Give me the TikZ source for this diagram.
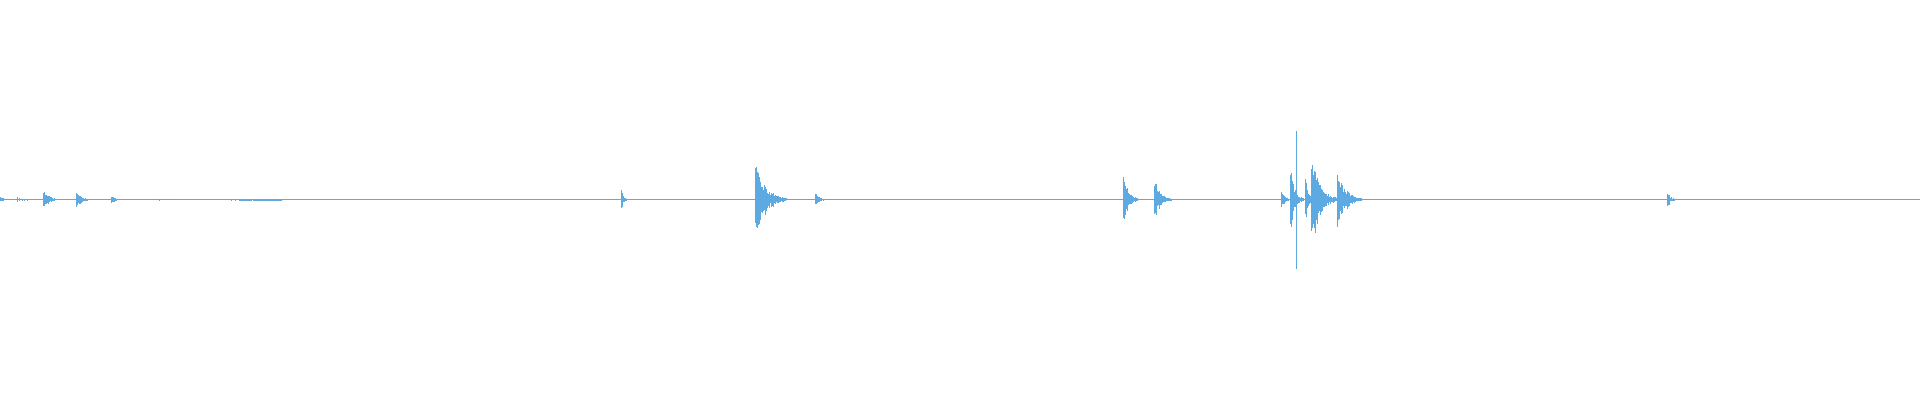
\documentclass[tikz,border=0pt]{standalone}
\definecolor{wave}{RGB}{93,170,226}
\pgfmathsetseed{7}
\newcommand{\wburst}[3]{%
  \foreach \i in {0,0.5,...,#3}{%
    \pgfmathsetmacro{\wa}{#2*exp(-\i/(#3/3))*(0.5+0.5*rnd)}%
    \pgfmathsetmacro{\wb}{\wa*(0.7+0.5*rnd)}%
    \pgfmathsetmacro{\wx}{#1+\i}%
    \draw[wave,line width=0.5pt] (\wx,163-\wa) -- (\wx,163+\wb);
  }}
\begin{document}
\begin{tikzpicture}[x=1pt,y=-1pt]
\useasboundingbox (0,0) rectangle (1568,327);
\draw[wave,line width=0.5pt] (0,163) -- (1568,163);
\wburst{0}{2}{20}
\wburst{14}{2.5}{8}
\wburst{35}{9}{14}
\wburst{62}{8}{12}
\wburst{91}{4}{8}
\wburst{130}{0.8}{100}
\wburst{507}{9}{6}
\wburst{617}{30}{25}
\wburst{666}{6}{10}
\wburst{917}{24}{12}
\wburst{943}{16}{14}
\wburst{1046}{10}{8}
\wburst{1054}{25}{10}
\draw[wave,line width=0.6pt] (1059,107) -- (1059,220);
\wburst{1066}{18}{8}
\wburst{1071}{36}{20}
\wburst{1092}{24}{20}
\wburst{1362}{6}{8}
\end{tikzpicture}
\end{document}
